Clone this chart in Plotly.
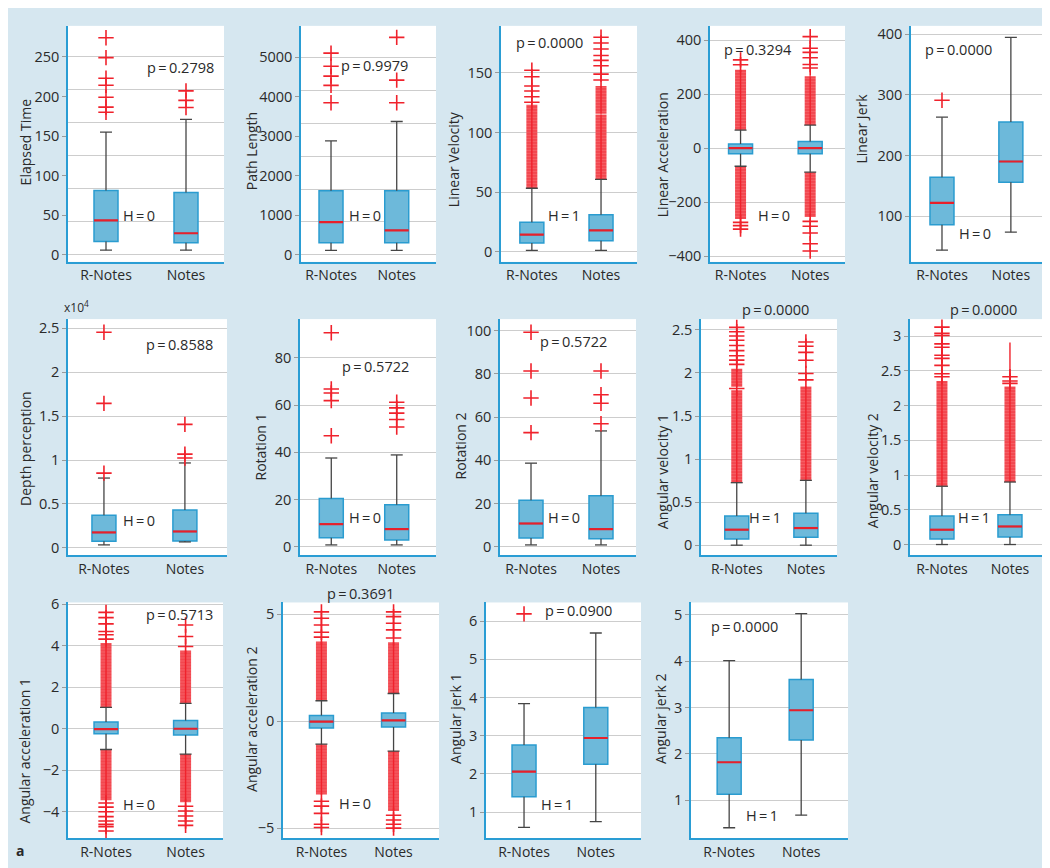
import plotly.graph_objects as go

# ---------------- data ----------------
metrics = ["Elapsed Time", "Path Length", "Linear Velocity", "Linear Acceleration", "Linear Jerk",
           "Depth perception", "Rotation 1", "Rotation 2", "Angular velocity 1", "Angular velocity 2",
           "Angular acceleration 1", "Angular acceleration 2", "Angular jerk 1", "Angular jerk 2"]
groups = ["R-Notes", "Notes"]
p_values = ["0.2798", "0.9979", "0.0000", "0.3294", "0.0000", "0.8588", "0.5722", "0.5722",
            "0.0000", "0.0000", "0.5713", "0.3691", "0.0900", "0.0000"]
h_values = [0, 0, 1, 0, 0, 0, 0, 0, 1, 1, 0, 0, 1, 1]

# R-Notes box statistics (depth perception in units of 10^4)
r_lower = [6, 116, 1.1, -67, 44, 0.034, 0.8, 0.9, 0.0, 0.0, -1.0, -1.08, 0.6, 0.41]
r_q1 = [17, 307, 7.4, -20.8, 86, 0.075, 3.8, 4.1, 0.073, 0.08, -0.24, -0.32, 1.4, 1.13]
r_median = [43.6, 830, 14.3, 0, 122, 0.176, 9.6, 10.8, 0.18, 0.213, -0.02, -0.02, 2.06, 1.82]
r_q3 = [81.4, 1620, 24.8, 15.9, 164, 0.371, 20.5, 21.6, 0.34, 0.412, 0.33, 0.26, 2.76, 2.35]
r_upper = [155, 2882, 53.2, 67, 263, 0.795, 37.6, 38.7, 0.726, 0.839, 1.03, 0.95, 3.84, 4.01]

# Notes box statistics
n_lower = [6, 116, 1.1, -89, 73.5, 0.068, 0.8, 0.9, 0.0, 0.0, -1.22, -1.4, 0.75, 0.68]
n_q1 = [15.4, 307, 9.1, -20.8, 156, 0.078, 2.9, 3.8, 0.092, 0.109, -0.3, -0.28, 2.25, 2.3]
n_median = [27.4, 623, 17.9, 0, 190, 0.187, 7.5, 8.2, 0.199, 0.26, 0.0, 0.03, 2.94, 2.94]
n_q3 = [78.9, 1620, 30.9, 24.4, 255, 0.431, 17.8, 23.6, 0.371, 0.427, 0.4, 0.38, 3.74, 3.6]
n_upper = [171, 3372, 60.7, 85.5, 394.6, 0.967, 38.9, 53.6, 0.753, 0.9, 1.22, 1.29, 5.69, 5.02]

# individual outliers
r_outliers = [
    [274, 249, 223, 214, 199, 186.5, 180],
    [5100, 4767, 4518, 4286, 3845],
    [125.4, 130, 134.8, 139, 146.7, 152.2],
    [309, 327, -275, -287, -300],
    [291],
    [0.851, 1.645, 2.455],
    [47, 61.9, 65.1, 66.8, 90.6],
    [52.8, 68.8, 81.3, 99.2],
    [1.82, 2.10, 2.15, 2.20, 2.26, 2.32, 2.38, 2.43, 2.48, 2.53],
    [2.417, 2.46, 2.58, 2.68, 2.725, 2.84, 2.89, 3.01, 3.04, 3.13],
    [4.32, 4.53, 4.69, 5.06, 5.36, 5.61, -3.58, -3.78, -4.0, -4.24, -4.45, -4.61, -4.72, -4.93],
    [3.92, 4.15, 4.49, 4.8, 5.1, -3.74, -3.97, -4.31, -4.82, -4.97],
    [6.19],
    [],
]
n_outliers = [
    [207, 195, 186],
    [5498, 4419, 3845],
    [144, 148.9, 156, 160.5, 164.6, 170, 175, 179.8],
    [297, 310, 335, 355, 370, 413, -271, -289, -314, -354, -381],
    [],
    [1.023, 1.068, 1.406],
    [50.7, 53.9, 56.6, 58.8, 61.2],
    [56.9, 66.4, 70.3, 81.3],
    [1.92, 1.995, 2.148, 2.24, 2.31, 2.36],
    [2.32, 2.355, 2.417],
    [3.97, 4.45, 5.0, -3.74, -3.97, -4.21, -4.45, -4.66],
    [3.88, 4.26, 4.57, 4.88, 5.1, -4.4, -4.62, -4.82, -5.0],
    [],
    [],
]

# ranges where outlier crosses merge into a solid column [low, high]
r_dense = [
    [], [], [[53.2, 123.2]], [[67, 290.7], [-262.6, -67]], [], [], [], [],
    [[0.726, 1.80], [1.84, 2.05]], [[0.839, 2.355]],
    [[1.03, 4.13], [-3.45, -1.0]], [[0.95, 3.72], [-3.43, -1.08]], [], [],
]
n_dense = [
    [], [], [[60.7, 115], [115.8, 139]], [[85.5, 266], [-255, -89]], [], [], [], [],
    [[0.753, 1.843]], [[0.9, 2.275]],
    [[1.22, 3.77], [-3.55, -1.22]], [[1.29, 3.68], [-4.2, -1.4]], [], [],
]
# thin stems of tightly stacked crosses (no solid column)
n_stems = [[], [], [], [], [], [], [], [], [], [[2.42, 2.91]], [], [], [], []]

# axes
y_ranges = [[-8.7, 289], [-174, 5789], [-8.5, 189.4], [-421, 453], [24.7, 413.5],
            [-0.082, 2.605], [-3.5, 96.4], [-3.8, 105.3], [-0.115, 2.626], [-0.152, 3.246],
            [-5.29, 6.09], [-5.48, 5.54], [0.31, 6.49], [0.18, 5.26]]
y_ticks = [[0, 50, 100, 150, 200, 250], [0, 1000, 2000, 3000, 4000, 5000], [0, 50, 100, 150],
           [-400, -200, 0, 200, 400], [100, 200, 300, 400], [0, 0.5, 1, 1.5, 2, 2.5],
           [0, 20, 40, 60, 80], [0, 20, 40, 60, 80, 100], [0, 0.5, 1, 1.5, 2, 2.5],
           [0, 0.5, 1, 1.5, 2, 2.5, 3], [-4, -2, 0, 2, 4, 6], [-5, 0, 5],
           [1, 2, 3, 4, 5, 6], [1, 2, 3, 4, 5]]
# panels whose grid lines do not follow the labelled ticks (grid divides top tick in 6)
odd_grid = {0: 6, 1: 6}

# ---------------- layout geometry (pixels) ----------------
W, H = 1050, 868
rects = [(60, 216, 10, 249), (293, 428, 10, 249), (493, 629, 10, 249), (702, 837, 10, 249),
         (903, 1038, 10, 249),
         (60, 219, 307, 546), (292, 428, 307, 546), (492, 628, 307, 546), (693, 829, 307, 546),
         (902, 1038, 307, 546),
         (60, 215, 594, 833), (275, 431, 594, 833), (478, 633, 594, 833), (683, 840, 594, 833)]
x_ranges = [[0.525, 2.475], [0.543, 2.598], [0.554, 2.52], [0.561, 2.50], [0.55, 2.51],
            [0.556, 2.52], [0.522, 2.6], [0.557, 2.5], [0.483, 2.45], [0.53, 2.53],
            [0.522, 2.47], [0.467, 2.63], [0.47, 2.63], [0.47, 2.65]]
p_pos = [(172, 52), (366, 50), (541, 27), (750, 34), (950, 34),
         (171, 333), (367, 355), (565, 330), (767, 297), (975, 297),
         (171, 606), (352, 585), (570, 602), (736, 618)]
h_pos = [(131, 202), (357, 202), (556, 202), (766, 202), (967, 220),
         (131, 511), (357, 508), (556, 508), (757, 508), (966, 508),
         (131, 799), (347, 798), (549, 799), (754, 810)]
title_pos = [(17, 128), (243, 137), (445, 145), (654, 141), (854, 114),
             (17.5, 438), (252, 437), (452, 436), (654, 462), (864, 461),
             (17, 745), (244, 713), (448, 712), (653, 712)]

BG = "#d6e7f0"
AX = "#2a9dd4"
GRID = "#cdcdcd"
BOXFILL = "#6db9da"
BOXLINE = "#2a9cd0"
MED = "#e8202a"
RED = "#f0222c"
WHISK = "#454545"
TXT = "#2a2a2a"
FONT = "Open Sans"
SP = "\u2006"  # narrow space around "="

fig = go.Figure()
layout = {}
annotations = []


def px(x):
    return x / W


def py(y):
    return 1 - y / H


stats = [
    (r_lower, r_q1, r_median, r_q3, r_upper, r_outliers, r_dense, [[] for _ in metrics]),
    (n_lower, n_q1, n_median, n_q3, n_upper, n_outliers, n_dense, n_stems),
]

for i, name in enumerate(metrics):
    k = i + 1
    xa = "x" if k == 1 else f"x{k}"
    ya = "y" if k == 1 else f"y{k}"
    xkey = "xaxis" if k == 1 else f"xaxis{k}"
    ykey = "yaxis" if k == 1 else f"yaxis{k}"
    L, R, T, B = rects[i]
    x0, x1 = x_ranges[i]
    ppu = (R - L) / (x1 - x0)
    bw = 24 / ppu
    cw = 6 / ppu
    dw = 11 / ppu

    layout[xkey] = dict(domain=[px(L), px(R)], range=[x0, x1], anchor=ya,
                        tickvals=[1, 2], ticktext=groups, showline=True, linecolor=AX,
                        linewidth=1.5, showgrid=False, zeroline=False, ticks="",
                        tickfont=dict(size=14, color=TXT, family=FONT), fixedrange=True)
    layout[ykey] = dict(domain=[py(B), py(T)], range=y_ranges[i], anchor=xa,
                        tickvals=y_ticks[i], showline=True, linecolor=AX, linewidth=1.5,
                        showgrid=(i not in odd_grid), gridcolor=GRID, gridwidth=1,
                        zeroline=False, ticks="outside", ticklen=4, tickcolor="#9a9a9a",
                        tickfont=dict(size=14.5, color=TXT, family=FONT), fixedrange=True)

    if i in odd_grid:
        n = odd_grid[i]
        top = y_ticks[i][-1]
        gk = 14 + len([j for j in odd_grid if j <= i])
        gkey = f"yaxis{gk}"
        layout[gkey] = dict(overlaying=ya, anchor=xa, range=y_ranges[i],
                            tickvals=[top * j / n for j in range(n + 1)],
                            showticklabels=False, ticks="", showgrid=True, gridcolor=GRID,
                            gridwidth=1, zeroline=False, showline=False, fixedrange=True)
        fig.add_trace(go.Scatter(x=[1], y=[0], xaxis=xa, yaxis=f"y{gk}", mode="none",
                                 showlegend=False, hoverinfo="skip"))

    for g, (lo_a, q1_a, med_a, q3_a, hi_a, out_a, dense_a, stem_a) in enumerate(stats):
        pos = g + 1
        lo, q1, med, q3, hi = lo_a[i], q1_a[i], med_a[i], q3_a[i], hi_a[i]

        # dense outlier columns
        for (a, b) in dense_a[i]:
            fig.add_trace(go.Bar(x=[pos], base=[a], y=[b - a], width=dw, xaxis=xa, yaxis=ya,
                                 marker=dict(color="rgba(240,45,55,0.88)", line=dict(width=0),
                                             pattern=dict(shape="-", fgcolor="rgba(255,190,190,0.55)",
                                                          size=3, solidity=0.25)),
                                 showlegend=False, hoverinfo="skip"))
        for (a, b) in dense_a[i] + stem_a[i]:
            fig.add_trace(go.Scatter(x=[pos, pos], y=[a, b], mode="lines", xaxis=xa, yaxis=ya,
                                     line=dict(color=RED, width=1.4), showlegend=False,
                                     hoverinfo="skip"))

        # box body
        fig.add_trace(go.Box(x=[pos], q1=[q1], median=[med], q3=[q3], lowerfence=[q1],
                             upperfence=[q3], width=bw, fillcolor=BOXFILL,
                             line=dict(color=BOXLINE, width=1.5), whiskerwidth=0,
                             boxpoints=False, xaxis=xa, yaxis=ya, showlegend=False,
                             hoverinfo="skip"))
        # whiskers
        fig.add_trace(go.Scatter(
            x=[pos, pos, None, pos, pos, None, pos - cw, pos + cw, None, pos - cw, pos + cw],
            y=[q3, hi, None, lo, q1, None, hi, hi, None, lo, lo],
            mode="lines", line=dict(color=WHISK, width=1.3), xaxis=xa, yaxis=ya,
            showlegend=False, hoverinfo="skip"))
        # median
        fig.add_trace(go.Scatter(x=[pos - bw / 2, pos + bw / 2], y=[med, med], mode="lines",
                                 line=dict(color=MED, width=2.2), xaxis=xa, yaxis=ya,
                                 showlegend=False, hoverinfo="skip"))
        # outliers
        if out_a[i]:
            fig.add_trace(go.Scatter(x=[pos] * len(out_a[i]), y=out_a[i], mode="markers",
                                     marker=dict(symbol="cross-thin", size=11,
                                                 line=dict(width=1.6, color=RED)),
                                     xaxis=xa, yaxis=ya, showlegend=False, hoverinfo="skip"))

    # texts
    tx, ty = title_pos[i]
    annotations.append(dict(x=px(tx), y=py(ty), xref="paper", yref="paper", text=name,
                            textangle=-90, showarrow=False, xanchor="center", yanchor="middle",
                            font=dict(size=14, color=TXT, family=FONT)))
    ppx, ppy = p_pos[i]
    annotations.append(dict(x=px(ppx), y=py(ppy), xref="paper", yref="paper",
                            text=f"p{SP}={SP}{p_values[i]}", showarrow=False, xanchor="center",
                            yanchor="middle", font=dict(size=14.5, color=TXT, family=FONT)))
    hx, hy = h_pos[i]
    annotations.append(dict(x=px(hx), y=py(hy), xref="paper", yref="paper",
                            text=f"H{SP}={SP}{h_values[i]}", showarrow=False, xanchor="center",
                            yanchor="middle", font=dict(size=14.5, color=TXT, family=FONT)))

annotations.append(dict(x=px(68), y=py(295), xref="paper", yref="paper", text="x10<sup>4</sup>",
                        showarrow=False, xanchor="center", yanchor="middle",
                        font=dict(size=12, color=TXT, family=FONT)))
annotations.append(dict(x=px(12), y=py(845), xref="paper", yref="paper", text="<b>a</b>",
                        showarrow=False, xanchor="center", yanchor="middle",
                        font=dict(size=14, color=TXT, family=FONT)))

fig.update_layout(**layout)
fig.update_layout(width=W, height=H, margin=dict(l=0, r=0, t=0, b=0), autosize=False,
                  paper_bgcolor=BG, plot_bgcolor="white", showlegend=False,
                  barmode="overlay", annotations=annotations,
                  font=dict(family=FONT, color=TXT))

fig.write_html("out.html")
